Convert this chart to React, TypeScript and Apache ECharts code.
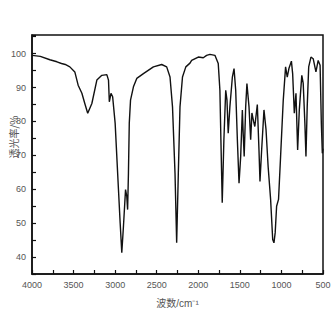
import React, { useEffect, useRef } from "react";
import * as echarts from "echarts";

const wavenumbers: number[] = [
  4000, 3900, 3785, 3700, 3645, 3600, 3545, 3485, 3445, 3400, 3365, 3330, 3280, 3220, 3160, 3100,
  3080, 3070, 3050, 3030, 3000, 2960, 2940, 2920, 2900, 2875, 2860, 2850, 2840, 2830, 2815, 2780,
  2740, 2660, 2540, 2440, 2380, 2340, 2310, 2280, 2260, 2240, 2220, 2190, 2150, 2100, 2080, 2000,
  1940, 1900, 1860, 1800, 1760, 1740, 1728, 1712, 1692, 1670, 1655, 1640, 1620, 1590, 1570, 1550,
  1530, 1510, 1490, 1470, 1460, 1448, 1430, 1415, 1390, 1370, 1355, 1335, 1320, 1290, 1270, 1258,
  1238, 1210, 1185, 1160, 1130, 1105, 1090, 1075, 1058, 1035, 1010, 978, 950, 930, 910, 880,
  865, 845, 825, 805, 785, 755, 738, 718, 705, 690, 672, 645, 618, 585, 558, 535,
  520, 508, 500,
];

const transmittance: number[] = [
  99.5, 99.2, 98.2, 97.6, 97.1, 96.8, 96.1, 94.6, 90.7, 88.3, 85.3, 82.4, 85.3, 92.2, 93.6, 93.8,
  92.2, 85.8, 88.3, 87.3, 79.5, 59.9, 50.2, 41.3, 49.1, 59.9, 57.9, 54.0, 64.8, 79.5, 86.3, 90.2,
  92.7, 94.1, 96.1, 96.8, 96.1, 93.1, 84.3, 64.8, 44.2, 64.8, 84.3, 93.1, 96.1, 97.2, 98.0, 99.0,
  98.8, 99.5, 99.8, 99.5, 97.1, 89.2, 74.6, 56.0, 74.6, 89.2, 86.3, 76.5, 84.3, 93.1, 95.6, 89.2,
  74.6, 61.8, 69.7, 83.4, 76.5, 69.7, 84.3, 91.2, 84.3, 74.6, 82.5, 80.0, 78.5, 85.0, 71.6, 62.3,
  71.6, 83.4, 77.5, 66.7, 57.0, 45.2, 44.2, 47.2, 55.0, 57.0, 69.7, 86.3, 96.1, 93.1, 95.6, 97.8,
  94.1, 82.4, 88.3, 71.6, 83.4, 93.6, 91.2, 79.5, 69.7, 84.3, 96.1, 99.0, 98.5, 94.6, 98.0, 96.6,
  79.5, 70.6, 72.0,
];

const xTickLabels: number[] = [4000, 3500, 3000, 2500, 2000, 1500, 1000, 500];
const yTickLabels: number[] = [40, 50, 60, 70, 80, 90, 100];

const xName = "波数/cm⁻¹";
const yName = "透光率/%";

export default function App() {
  const ref = useRef<HTMLDivElement>(null);

  useEffect(() => {
    if (!ref.current) return;
    const chart = echarts.init(ref.current, undefined, { renderer: "svg" });
    const data = wavenumbers.map((w, i) => [w, transmittance[i]]);
    const textColor = "#555";
    chart.setOption({
      animation: false,
      backgroundColor: "#fff",
      grid: {
        left: 32,
        right: 11,
        top: 35,
        bottom: 60,
        show: true,
        borderColor: "#111",
        borderWidth: 1.5,
      },
      xAxis: {
        type: "value",
        inverse: true,
        min: 500,
        max: 4000,
        interval: 250,
        name: xName,
        nameLocation: "middle",
        nameGap: 24,
        nameTextStyle: { color: textColor, fontSize: 10, fontFamily: "Arial, 'Noto Sans CJK SC', sans-serif" },
        axisLine: { show: true, lineStyle: { color: "#111", width: 1.5 } },
        axisTick: { show: true, inside: true, length: 4, lineStyle: { color: "#111", width: 1.2 } },
        axisLabel: {
          color: textColor,
          fontSize: 9,
          margin: 6,
          fontFamily: "Arial, sans-serif",
          hideOverlap: false,
          showMinLabel: true,
          showMaxLabel: true,
          formatter: (v: number) => (xTickLabels.includes(v) ? String(v) : ""),
        },
        splitLine: { show: false },
      },
      yAxis: {
        type: "value",
        min: 35,
        max: 105.5,
        interval: 5,
        axisLine: { show: true, lineStyle: { color: "#111", width: 1.5 } },
        axisTick: { show: true, inside: true, length: 4, lineStyle: { color: "#111", width: 1.2 } },
        axisLabel: {
          color: textColor,
          fontSize: 9,
          margin: 6,
          fontFamily: "Arial, sans-serif",
          formatter: (v: number) => (yTickLabels.includes(v) ? String(v) : ""),
        },
        splitLine: { show: false },
      },
      graphic: [
        {
          type: "text",
          x: 13,
          y: 137,
          rotation: Math.PI / 2,
          style: {
            text: yName,
            fill: textColor,
            fontSize: 10,
            fontFamily: "'Noto Sans CJK SC', sans-serif",
            textAlign: "center",
            textVerticalAlign: "middle",
          },
        },
      ],
      series: [
        {
          type: "line",
          data,
          symbol: "none",
          lineStyle: { color: "#111", width: 1.4 },
          silent: true,
        },
      ],
    });
    return () => chart.dispose();
  }, []);

  return (
    <div
      ref={ref}
      style={{ position: "fixed", left: 0, top: 0, width: 334, height: 334, overflow: "visible" }}
    />
  );
}
